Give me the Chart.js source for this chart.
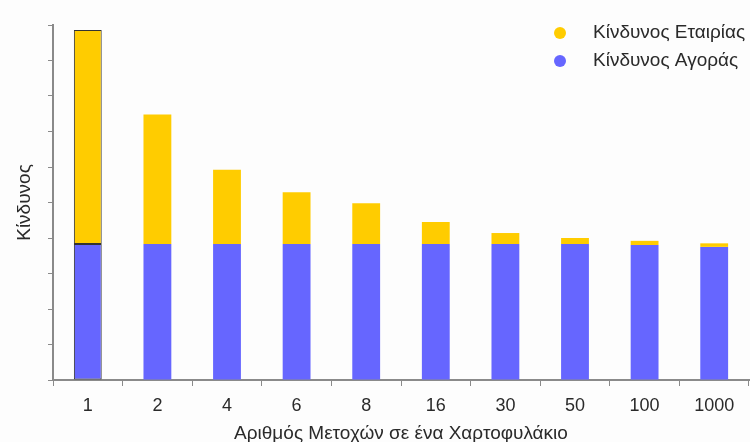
<!DOCTYPE html>
<html>
<head>
<meta charset="utf-8">
<script src="https://cdn.jsdelivr.net/npm/chart.js@4"></script>
<style>
  html, body { margin: 0; padding: 0; background: #fdfdfd; }
  #wrap { width: 750px; height: 442px; position: relative; }
</style>
</head>
<body>
<div id="wrap"><canvas id="c" width="750" height="442"></canvas></div>
<script>
const categories = ['1', '2', '4', '6', '8', '16', '30', '50', '100', '1000'];
const marketRisk = [3.83, 3.83, 3.83, 3.83, 3.83, 3.83, 3.83, 3.83, 3.80, 3.75];
const firmRisk   = [6.03, 3.65, 2.09, 1.46, 1.15, 0.62, 0.31, 0.17, 0.12, 0.10];
const seriesNames = ['Κίνδυνος Αγοράς', 'Κίνδυνος Εταιρίας'];
const xTitle = 'Αριθμός Μετοχών σε ένα Χαρτοφυλάκιο';
const yTitle = 'Κίνδυνος';

const FONT = 'Liberation Sans, Arial, sans-serif';
const TEXT = '#2a2a2a';
const AXIS = '#8a8a8a';

const firstBarBorder = categories.map((c, i) => i === 0 ? 1 : 0);

const legendPlugin = {
  id: 'cornerLegend',
  afterDraw(chart) {
    const ctx = chart.ctx;
    const ds = chart.data.datasets.slice().reverse();
    ctx.save();
    ctx.font = '19px ' + FONT;
    ctx.textBaseline = 'middle';
    ds.forEach((d, i) => {
      const y = 33 + i * 28;
      ctx.fillStyle = d.backgroundColor;
      ctx.beginPath();
      ctx.arc(560, y, 6, 0, Math.PI * 2);
      ctx.fill();
      ctx.fillStyle = TEXT;
      ctx.fillText(d.label, 593, y);
    });
    ctx.restore();
  }
};

new Chart(document.getElementById('c'), {
  type: 'bar',
  data: {
    labels: categories,
    datasets: [
      {
        label: seriesNames[0],
        data: marketRisk,
        backgroundColor: '#6666FF',
        borderColor: '#333333',
        borderWidth: firstBarBorder,
        borderSkipped: false
      },
      {
        label: seriesNames[1],
        data: firmRisk,
        backgroundColor: '#FFCC00',
        borderColor: '#333333',
        borderWidth: firstBarBorder,
        borderSkipped: false
      }
    ]
  },
  options: {
    responsive: false,
    animation: false,
    devicePixelRatio: 1,
    layout: { padding: { top: 25, right: 1, left: 0, bottom: 0 } },
    datasets: { bar: { barPercentage: 0.4, categoryPercentage: 1.0 } },
    plugins: {
      legend: { display: false },
      tooltip: { enabled: false },
      title: { display: false }
    },
    scales: {
      x: {
        stacked: true,
        grid: { display: true, drawOnChartArea: false, drawTicks: true, tickLength: 6, color: AXIS, lineWidth: 1, offset: true },
        border: { display: true, color: AXIS, width: 2 },
        ticks: { color: TEXT, font: { family: FONT, size: 18 }, padding: 9, maxRotation: 0 },
        title: { display: true, text: xTitle, color: TEXT, font: { family: FONT, size: 19, lineHeight: 1 }, padding: { top: 0, bottom: -1.5 } },
        afterFit(scale) { scale.height = 62; }
      },
      y: {
        stacked: true,
        min: 0,
        max: 10,
        grid: { display: true, drawOnChartArea: false, drawTicks: true, tickLength: 5, color: AXIS, lineWidth: 1 },
        border: { display: true, color: AXIS, width: 2 },
        ticks: { display: false, stepSize: 1 },
        title: { display: true, text: yTitle, color: TEXT, font: { family: FONT, size: 19 }, padding: { top: 13.5, bottom: 0 } },
        afterFit(scale) { scale.width = 53; }
      }
    }
  },
  plugins: [legendPlugin]
});
</script>
</body>
</html>
